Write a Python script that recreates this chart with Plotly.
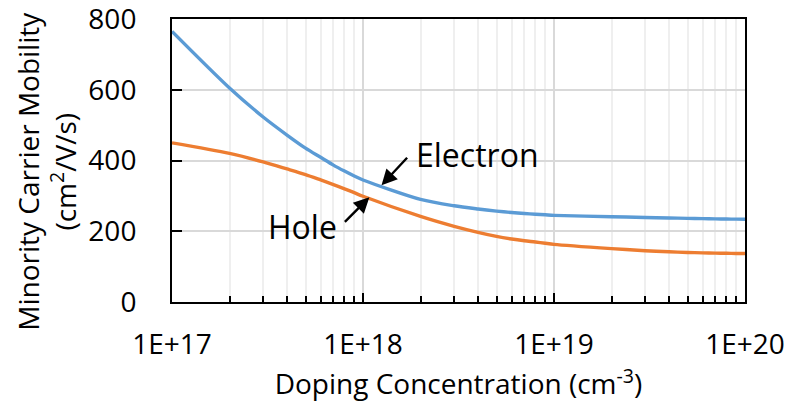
import math
import plotly.graph_objects as go

# Doping concentration (cm^-3), sampled at 1..9 x each decade
doping = [
    1e17, 2e17, 3e17, 4e17, 5e17, 6e17, 7e17, 8e17, 9e17,
    1e18, 2e18, 3e18, 4e18, 5e18, 6e18, 7e18, 8e18, 9e18,
    1e19, 2e19, 3e19, 4e19, 5e19, 6e19, 7e19, 8e19, 9e19,
    1e20,
]

# Minority carrier mobility (cm^2/V/s)
electron_mobility = [
    765, 605, 523, 472, 435, 409, 387, 370, 356,
    345, 290, 272, 263, 257, 253, 250, 248, 246.5,
    245, 241, 239, 237.5, 236.5, 235.7, 235, 234.5, 234.2,
    234,
]
hole_mobility = [
    450, 420, 396, 376, 360, 345, 332, 320, 309,
    299, 242, 214, 197, 185.5, 178, 173, 169.5, 166,
    163, 151, 145, 142, 140, 139, 138.3, 137.7, 137.3,
    137,
]

decade_ticks = [1e17, 1e18, 1e19, 1e20]
decade_labels = ["1E+17", "1E+18", "1E+19", "1E+20"]
minor_ticks = [k * 10.0 ** e for e in (17, 18, 19) for k in range(2, 10)]
y_ticks = [0, 200, 400, 600, 800]

FONT = "Open Sans"
BLUE = "#5B9BD5"
ORANGE = "#ED7D31"

fig = go.Figure()
fig.add_trace(go.Scatter(
    x=doping, y=electron_mobility, mode="lines", name="Electron",
    line=dict(color=BLUE, width=3.4, shape="spline", smoothing=0.8),
))
fig.add_trace(go.Scatter(
    x=doping, y=hole_mobility, mode="lines", name="Hole",
    line=dict(color=ORANGE, width=3.4, shape="spline", smoothing=0.8),
))

# Curve labels with pointer arrows
fig.add_annotation(
    x=math.log10(1.25e18), y=330, xref="x", yref="y",
    text="", showarrow=True, ax=27, ay=-29,
    arrowhead=2, arrowsize=1.3, arrowwidth=2.4, arrowcolor="black",
)
fig.add_annotation(
    x=math.log10(1.08e18), y=296, xref="x", yref="y",
    text="", showarrow=True, ax=-26, ay=26,
    arrowhead=2, arrowsize=1.3, arrowwidth=2.4, arrowcolor="black",
)
fig.add_annotation(
    x=math.log10(1.85e18), y=418, xref="x", yref="y",
    text="Electron", showarrow=False, xanchor="left", yanchor="middle",
    font=dict(family=FONT, size=32, color="black"),
)
fig.add_annotation(
    x=math.log10(3.12e17), y=214, xref="x", yref="y",
    text="Hole", showarrow=False, xanchor="left", yanchor="middle",
    font=dict(family=FONT, size=32, color="black"),
)

# Vertical axis title, two lines
fig.add_annotation(
    x=-0.219, y=0.462, xref="paper", yref="paper",
    text="Minority Carrier Mobility<br>(cm<sup>2</sup>/V/s)",
    showarrow=False, textangle=-90, xanchor="center", yanchor="middle",
    font=dict(family=FONT, size=28, color="black"),
)

fig.update_layout(
    width=790, height=410,
    margin=dict(l=172, r=45, t=19, b=108),
    paper_bgcolor="white", plot_bgcolor="white",
    showlegend=False,
    font=dict(family=FONT, color="black"),
)

fig.update_xaxes(
    type="log",
    range=[17, 20],
    automargin=False,
    tickmode="array", tickvals=decade_ticks, ticktext=decade_labels,
    tickfont=dict(family=FONT, size=28, color="black"),
    ticks="inside", ticklen=9, tickwidth=2, tickcolor="black",
    ticklabelstandoff=16, ticklabeloverflow="allow",
    showgrid=True, gridcolor="#d9d9d9", gridwidth=1.5,
    minor=dict(
        tickmode="array", tickvals=minor_ticks,
        ticks="inside", ticklen=6, tickwidth=1.5, tickcolor="black",
        showgrid=True, gridcolor="#efefef", gridwidth=1.5,
    ),
    showline=True, linecolor="black", linewidth=2, mirror=True,
    zeroline=False,
    title=dict(
        text="Doping Concentration (cm<sup>-3</sup>)",
        font=dict(family=FONT, size=28, color="black"),
        standoff=10,
    ),
)

fig.update_yaxes(
    range=[0, 800],
    automargin=False,
    tickmode="array", tickvals=y_ticks,
    tickfont=dict(family=FONT, size=28, color="black"),
    ticks="inside", ticklen=10, tickwidth=2, tickcolor="black",
    ticklabelstandoff=28, ticklabeloverflow="allow",
    showgrid=True, gridcolor="#d9d9d9", gridwidth=1.5,
    showline=True, linecolor="black", linewidth=2, mirror=True,
    zeroline=False,
)

fig.write_html("out.html")
